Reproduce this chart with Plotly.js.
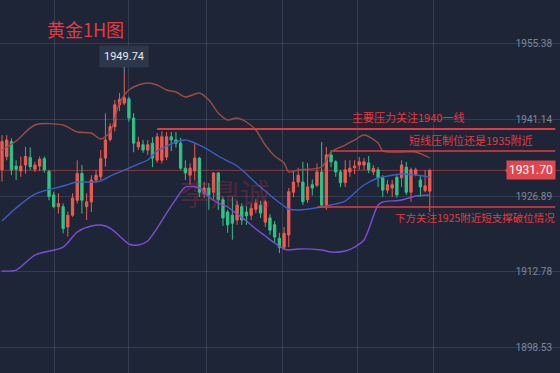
<!DOCTYPE html>
<html><head><meta charset="utf-8">
<script src="https://cdn.plot.ly/plotly-3.0.1.min.js"></script>
<style>html,body{margin:0;padding:0;background:#1e2537;}#chart{width:560px;height:373px;}</style>
</head><body><div id="chart"></div>
<script>
// ---- data ----
const openP  = [1931.8,1934.3,1937.1,1932.5,1931.6,1932.7,1934.1,1931.9,1932.5,1933.9,1931.5,1927.1,1924.9,1924.9,1921.1,1923.3,1926.1,1931.1,1924.9,1925.8,1929.9,1930.5,1934.0,1937.5,1939.9,1944.0,1944.3,1945.1,1941.5,1936.1,1936.5,1935.5,1936.8,1933.6,1933.6,1934.2,1938.0,1937.4,1936.8,1932.1,1930.8,1931.6,1934.0,1927.4,1928.4,1927.6,1931.2,1926.2,1923.9,1923.3,1922.4,1924.9,1923.9,1923.3,1924.4,1925.2,1922.0,1922.8,1921.5,1919.0,1917.3,1919.6,1927.6,1929.5,1929.5,1926.2,1929.0,1928.9,1931.4,1925.2,1934.6,1933.3,1931.4,1929.4,1931.4,1932.2,1932.7,1932.7,1933.1,1931.4,1931.8,1930.3,1928.0,1928.4,1930.4,1930.3,1932.3,1927.6,1931.0,1929.9,1927.9,1927.8];
const highP  = [1938.3,1938.3,1937.7,1933.6,1934.3,1936.1,1936.0,1933.3,1934.3,1934.3,1931.8,1927.7,1927.4,1925.5,1924.0,1927.4,1933.6,1932.7,1927.4,1930.8,1931.8,1935.5,1942.4,1940.5,1944.9,1946.2,1949.74,1945.5,1942.4,1938.0,1937.4,1937.4,1937.9,1938.7,1939.0,1938.9,1938.9,1938.9,1937.8,1933.6,1933.0,1936.8,1934.2,1929.5,1929.3,1931.4,1931.4,1926.7,1924.3,1926.7,1926.0,1925.5,1925.0,1925.5,1926.3,1926.0,1926.2,1923.5,1922.2,1920.0,1921.1,1928.4,1931.4,1932.2,1933.3,1933.1,1930.0,1933.0,1937.0,1936.1,1935.5,1933.6,1931.8,1933.6,1933.6,1933.6,1934.2,1934.0,1934.4,1932.7,1932.3,1930.8,1929.9,1929.9,1930.8,1933.6,1933.3,1932.2,1932.2,1930.8,1931.8,1932.0];
const lowP   = [1929.6,1933.6,1930.8,1929.9,1930.5,1931.1,1931.8,1931.4,1931.6,1931.3,1926.1,1924.6,1923.6,1919.9,1919.3,1923.0,1925.5,1923.6,1922.4,1923.9,1929.3,1929.9,1932.4,1937.1,1939.0,1942.8,1943.9,1940.8,1935.1,1935.5,1935.0,1934.6,1932.3,1933.1,1933.0,1933.6,1935.3,1936.0,1931.8,1929.9,1929.0,1929.9,1926.7,1926.5,1924.3,1926.2,1924.3,1921.3,1920.0,1918.7,1921.5,1921.5,1921.5,1922.4,1923.7,1922.8,1921.1,1919.6,1918.2,1916.2,1916.8,1917.3,1926.7,1928.6,1925.2,1925.6,1927.0,1928.6,1924.8,1924.3,1932.3,1930.5,1928.6,1928.6,1930.5,1931.0,1931.8,1931.8,1931.2,1930.8,1928.6,1926.7,1927.4,1926.7,1926.6,1928.6,1927.1,1925.8,1930.6,1926.7,1927.6,1923.9];
const closeP = [1937.1,1937.4,1931.8,1931.9,1932.5,1934.3,1932.4,1932.7,1933.8,1931.8,1926.8,1924.9,1925.5,1920.8,1923.3,1926.5,1931.1,1926.1,1925.8,1929.9,1930.8,1933.9,1937.4,1939.9,1944.0,1945.0,1945.3,1941.5,1936.8,1937.0,1935.5,1936.5,1934.0,1938.0,1938.0,1938.0,1937.4,1936.8,1932.1,1931.2,1932.1,1934.0,1927.6,1928.4,1927.1,1931.2,1926.2,1922.8,1921.5,1921.8,1925.2,1922.4,1923.2,1924.6,1925.6,1923.7,1925.8,1920.5,1919.2,1917.3,1919.9,1927.7,1929.5,1930.8,1925.8,1928.6,1928.4,1931.4,1925.2,1934.6,1933.3,1931.4,1929.4,1931.8,1932.1,1932.5,1933.3,1933.3,1931.8,1932.1,1930.3,1928.0,1929.0,1929.0,1927.1,1932.7,1927.6,1931.8,1931.8,1928.6,1928.8,1931.7];

// Bollinger band readings (sampled at candle indices)
const bandIdx   = [0,3,7,13,16,19,21,23,25,27,29,31,33,35,37,39,42,44,46,48,50,52,54,56,58,60,61,63,68,70,73,75,77,80,81,85,88,91];
const bandUpper = [1935.51,1937.20,1940.20,1940.20,1938.89,1938.70,1937.58,1938.89,1944.32,1946.76,1947.69,1948.07,1947.69,1946.76,1946.38,1945.45,1946.20,1944.88,1942.45,1941.14,1941.51,1940.76,1939.26,1936.45,1934.39,1933.08,1931.39,1931.77,1932.33,1935.14,1936.45,1937.39,1938.33,1936.83,1935.33,1935.14,1935.14,1934.02];
const bandMid   = [1922.21,1924.65,1927.27,1928.77,1929.52,1929.52,1929.71,1930.64,1931.39,1932.14,1932.89,1933.64,1935.33,1936.26,1937.01,1937.39,1936.45,1935.51,1934.39,1933.45,1932.52,1931.02,1929.33,1927.83,1926.33,1925.02,1924.46,1924.27,1924.84,1925.21,1925.96,1927.46,1928.96,1930.27,1930.46,1931.02,1930.83,1930.46];
const bandLower = [1912.84,1913.03,1915.84,1917.34,1920.15,1921.27,1921.46,1920.90,1919.40,1917.90,1917.72,1918.47,1920.90,1923.71,1926.33,1928.58,1928.39,1926.71,1925.58,1924.84,1923.52,1922.21,1920.71,1919.40,1918.09,1916.97,1916.78,1916.97,1916.78,1916.40,1916.59,1917.34,1918.65,1925.21,1925.77,1926.15,1926.90,1927.08];

const axisTicks  = [1955.38,1941.14,1926.89,1912.78,1898.53];
const axisLabels = ["1955.38","1941.14","1926.89","1912.78","1898.53"];
const lastPrice = 1931.70;
const peakPrice = 1949.74;

const levelValues = [1939.45, 1935.33, 1924.84];
const levelStart  = [33, 70.4, 67];
const levelNotes  = ["主要压力关注1940一线","短线压制位还是1935附近","下方关注1925附近短支撑破位情况"];
const titleText = "黄金1H图";

// ---- build ----
const idx = openP.map((_, i) => i);
const peakIdx = highP.indexOf(peakPrice);
const RED = '#e8383f';
const CJK = "'Noto Sans CJK SC', 'Noto Sans', sans-serif";
const NUM = "Roboto, 'Noto Sans', sans-serif";

const traces = [
  {type:'scatter', mode:'lines', x:bandIdx, y:bandUpper, line:{color:'#9a4c45', width:1.4, shape:'spline', smoothing:0.8}, hoverinfo:'skip'},
  {type:'scatter', mode:'lines', x:bandIdx, y:bandMid, line:{color:'#3b5fc4', width:1.4, shape:'spline', smoothing:0.8}, hoverinfo:'skip'},
  {type:'scatter', mode:'lines', x:bandIdx, y:bandLower, line:{color:'#7b4ed8', width:1.4, shape:'spline', smoothing:0.8}, hoverinfo:'skip'},
  {type:'candlestick', x:idx, open:openP, high:highP, low:lowP, close:closeP,
   increasing:{line:{color:'#ef5a50', width:1}, fillcolor:'#ef5a50'},
   decreasing:{line:{color:'#2fc486', width:1}, fillcolor:'#2fc486'},
   whiskerwidth:0, hoverinfo:'skip'}
];

const xMax = 118.7;
const shapes = [
  {type:'line', xref:'paper', x0:0, x1:1, yref:'y', y0:lastPrice, y1:lastPrice, line:{color:'rgba(214,72,72,0.55)', width:1}, layer:'below'}
];
levelValues.forEach((v, k) => {
  shapes.push({type:'line', xref:'x', x0:levelStart[k], x1:117.7, yref:'y', y0:v, y1:v, line:{color:RED, width:k===0?2:1.6}});
});
// arrow of price tag
shapes.push({type:'path', xref:'paper', yref:'y',
  path:`M ${505/560},${lastPrice} L ${512/560},${lastPrice+1.6} L ${512/560},${lastPrice-1.6} Z`,
  fillcolor:'#e0474c', line:{width:0}});

const annotations = [
  {xref:'paper', yref:'paper', x:0.080, y:0.922, xanchor:'left', yanchor:'middle', text:titleText, showarrow:false,
   font:{family:CJK, size:18, color:RED}},
  {xref:'x', yref:'y', x:peakIdx, y:peakPrice, text:peakPrice.toFixed(2), showarrow:true, ax:0, ay:-18,
   arrowhead:0, arrowwidth:1, arrowcolor:'#7c869a', bgcolor:'#2d374b', borderpad:4,
   font:{family:NUM, size:11, color:'#e6eaf0'}},
  {xref:'paper', yref:'y', x:0.992, y:lastPrice, xanchor:'right', yanchor:'middle', text:lastPrice.toFixed(2), showarrow:false,
   bgcolor:'#e0474c', borderpad:2, font:{family:NUM, size:12, color:'#ffffff'}},
  {xref:'paper', yref:'paper', x:0.625, y:0.686, xanchor:'left', yanchor:'middle', text:levelNotes[0], showarrow:false,
   font:{family:CJK, size:11, color:RED}},
  {xref:'paper', yref:'paper', x:0.727, y:0.625, xanchor:'left', yanchor:'middle', text:levelNotes[1], showarrow:false,
   font:{family:CJK, size:11, color:RED}},
  {xref:'paper', yref:'paper', x:0.702, y:0.418, xanchor:'left', yanchor:'middle', text:levelNotes[2], showarrow:false,
   font:{family:CJK, size:10.5, color:RED}},
  {xref:'paper', yref:'paper', x:225/560, y:1-192/373, xanchor:'center', yanchor:'middle', text:'李鼎诚', showarrow:false,
   font:{family:CJK, size:30, color:'rgba(200,45,70,0.3)'}}
];

const layout = {
  width:560, height:373, margin:{l:0,r:0,t:0,b:0},
  paper_bgcolor:'#1e2537', plot_bgcolor:'#1e2537', showlegend:false,
  xaxis:{range:[-0.43, xMax], showticklabels:false, zeroline:false, rangeslider:{visible:false},
         tickvals:[11.06,27,43.4,59.6,75.7,91.7], showgrid:true, gridcolor:'rgba(150,160,185,0.2)', gridwidth:1, ticks:''},
  yaxis:{range:[1893.74, 1963.62], side:'right', tickvals:axisTicks, ticktext:axisLabels, ticklabelposition:'inside',
         ticklabelstandoff:5, tickfont:{family:NUM, size:10, color:'#7e879a'},
         showgrid:true, gridcolor:'rgba(150,160,185,0.2)', zeroline:false, ticks:''},
  shapes, annotations
};
Plotly.newPlot('chart', traces, layout, {staticPlot:true, displayModeBar:false});
</script></body></html>
